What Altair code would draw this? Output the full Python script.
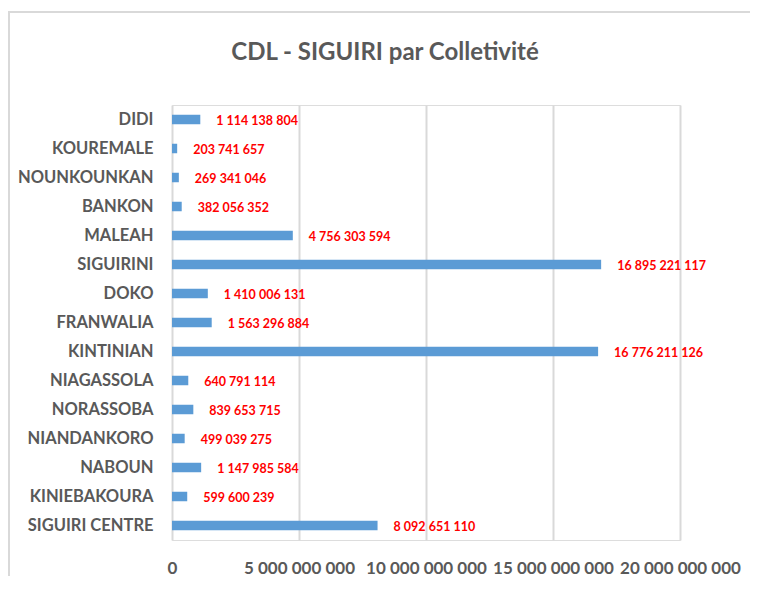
import altair as alt
import pandas as pd

categories = ["DIDI", "KOUREMALE", "NOUNKOUNKAN", "BANKON", "MALEAH", "SIGUIRINI",
              "DOKO", "FRANWALIA", "KINTINIAN", "NIAGASSOLA", "NORASSOBA",
              "NIANDANKORO", "NABOUN", "KINIEBAKOURA", "SIGUIRI CENTRE"]
values = [1114138804, 203741657, 269341046, 382056352, 4756303594, 16895221117,
          1410006131, 1563296884, 16776211126, 640791114, 839653715,
          499039275, 1147985584, 599600239, 8092651110]
tick_values = [0, 5000000000, 10000000000, 15000000000, 20000000000]

df = pd.DataFrame({"collectivite": categories, "montant": values})

FONT = "Lato"
GREY = "#595959"

base = alt.Chart(df).encode(
    y=alt.Y("collectivite:N", sort=categories, title=None,
            axis=alt.Axis(domain=False, ticks=False, grid=False, labelPadding=19,
                          labelFont=FONT, labelFontSize=16.5, labelFontWeight="bold",
                          labelColor=GREY)),
    x=alt.X("montant:Q", title=None,
            scale=alt.Scale(domain=[0, 20000000000], nice=False),
            axis=alt.Axis(values=tick_values, format=",d", domain=False, ticks=False,
                          grid=True, gridColor="#D9D9D9", gridWidth=2,
                          labelPadding=20, labelFont=FONT, labelFontSize=17,
                          labelFontWeight="bold", labelColor=GREY,
                          labelOverlap=False, labelFlush=False)),
)

bars = base.mark_bar(size=9.5, color="#5B9BD5")
labels = base.mark_text(align="left", baseline="middle", dx=16, dy=1, font=FONT,
                        fontSize=12.5, fontWeight="bold", color="#FF0000").encode(
    text=alt.Text("montant:Q", format=",d"))

frame = alt.Chart(df).mark_rect(fill="transparent", stroke="#D9D9D9", strokeWidth=2).encode(
    x=alt.value(-163), x2=alt.value(620), y=alt.value(-93), y2=alt.value(520))

chart = alt.layer(frame, bars, labels).properties(
    width=508, height=435,
    autosize=alt.AutoSizeParams(type="none"),
    padding={"left": 164, "top": 97, "right": 70, "bottom": 36},
    title=alt.TitleParams("CDL - SIGUIRI par Colletivité", font=FONT, fontSize=24,
                          fontWeight="bold", color=GREY, anchor="middle", dx=-41,
                          offset=-54, frame="group"),
).configure_view(stroke=None).configure(
    locale={"number": {"decimal": ",", "thousands": " ", "grouping": [3],
                       "currency": ["", ""]}}
)

chart.save("out.html", embed_options={"renderer": "svg", "actions": False})
